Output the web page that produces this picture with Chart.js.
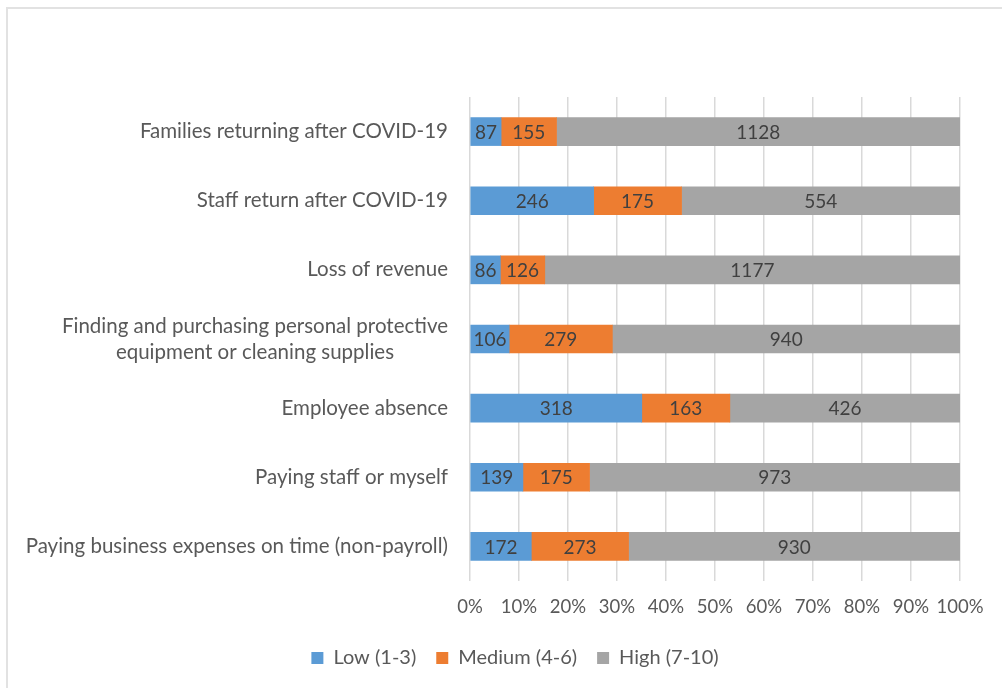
<!DOCTYPE html>
<html>
<head>
<meta charset="utf-8">
<script src="https://cdn.jsdelivr.net/npm/chart.js@4.4.1/dist/chart.umd.min.js"></script>
<style>
  html, body { margin: 0; padding: 0; background: #fff; overflow: hidden; }
  #frame { position: absolute; left: 6px; top: 7px; width: 1010px; height: 700px;
           border: 2px solid #e2e2e2; box-sizing: border-box; }
  #wrap { position: absolute; left: 0; top: 0; width: 1002px; height: 688px; }
</style>
</head>
<body>
<div id="frame"></div>
<div id="wrap"><canvas id="c" width="1002" height="688"></canvas></div>
<script>
// Concern categories, top to bottom
const categories = [
  ["Families returning after COVID-19"],
  ["Staff return after COVID-19"],
  ["Loss of revenue"],
  ["Finding and purchasing personal protective", "equipment or cleaning supplies"],
  ["Employee absence"],
  ["Paying staff or myself"],
  ["Paying business expenses on time (non-payroll)"]
];
// Number of respondents per concern level
const lowCounts    = [87, 246, 86, 106, 318, 139, 172];
const mediumCounts = [155, 175, 126, 279, 163, 175, 273];
const highCounts   = [1128, 554, 1177, 940, 426, 973, 930];
const seriesNames  = ["Low (1-3)", "Medium (4-6)", "High (7-10)"];
const seriesColors = ["#5B9BD5", "#ED7D31", "#A5A5A5"];
const percentTicks = [0, 10, 20, 30, 40, 50, 60, 70, 80, 90, 100];

const FONT = "Lato, 'Open Sans', sans-serif";
const TEXT = "#595959";

const totals = categories.map((_, i) => lowCounts[i] + mediumCounts[i] + highCounts[i]);
const share = arr => arr.map((v, i) => v / totals[i] * 100);
const countSets = [lowCounts, mediumCounts, highCounts];

// Writes each segment's count in the middle of the segment
const countLabels = {
  id: "countLabels",
  afterDatasetsDraw(chart) {
    const ctx = chart.ctx;
    ctx.save();
    ctx.font = "19px " + FONT;
    ctx.fillStyle = "#404040";
    ctx.textAlign = "center";
    ctx.textBaseline = "middle";
    chart.data.datasets.forEach((ds, di) => {
      chart.getDatasetMeta(di).data.forEach((bar, i) => {
        const p = bar.getProps(["x", "y", "base"], true);
        ctx.fillText(String(countSets[di][i]), (p.x + p.base) / 2, p.y + 1);
      });
    });
    ctx.restore();
  }
};

// Category names: block right-aligned to the axis, lines centred within the block
const categoryNames = {
  id: "categoryNames",
  afterDraw(chart) {
    const ctx = chart.ctx;
    const y = chart.scales.y;
    const right = chart.chartArea.left - 22;
    const lh = 26;
    ctx.save();
    ctx.font = "20.5px " + FONT;
    ctx.fillStyle = TEXT;
    ctx.textAlign = "center";
    ctx.textBaseline = "middle";
    categories.forEach((lines, i) => {
      const cy = y.getPixelForTick(i);
      const w = Math.max(...lines.map(l => ctx.measureText(l).width));
      const cx = right - w / 2;
      const y0 = cy - (lines.length - 1) * lh / 2;
      lines.forEach((l, k) => ctx.fillText(l, cx, y0 + k * lh));
    });
    ctx.restore();
  }
};

new Chart(document.getElementById("c"), {
  type: "bar",
  data: {
    labels: categories,
    datasets: countSets.map((arr, k) => ({
      label: seriesNames[k],
      data: share(arr),
      backgroundColor: seriesColors[k],
      borderWidth: 0,
      barThickness: 28
    }))
  },
  options: {
    indexAxis: "y",
    responsive: false,
    animation: false,
    layout: { padding: { top: 97, left: 28, right: 0, bottom: 10 } },
    scales: {
      x: {
        stacked: true,
        min: 0, max: 100,
        afterBuildTicks(s) { s.ticks = percentTicks.map(v => ({ value: v })); },
        afterFit(s) { s.height = 47; },
        grid: { color: "#d9d9d9", lineWidth: 1.5, drawTicks: false },
        border: { display: false },
        ticks: { color: TEXT, font: { family: FONT, size: 18.5 }, padding: 15,
                 autoSkip: false, callback: v => v + "%", maxRotation: 0 }
      },
      y: {
        stacked: true,
        grid: { display: false },
        border: { display: false },
        ticks: { display: false },
        afterFit(s) { s.width = 442; }
      },
      yRight: {
        position: "right",
        display: true,
        grid: { display: false },
        border: { display: false },
        ticks: { display: false },
        afterFit(s) { s.width = 42; }
      }
    },
    plugins: {
      legend: {
        position: "bottom",
        labels: { color: TEXT, font: { family: FONT, size: 20 },
                  boxWidth: 12, boxHeight: 12, padding: 20 }
      },
      tooltip: { enabled: false }
    }
  },
  plugins: [countLabels, categoryNames]
});
</script>
</body>
</html>
